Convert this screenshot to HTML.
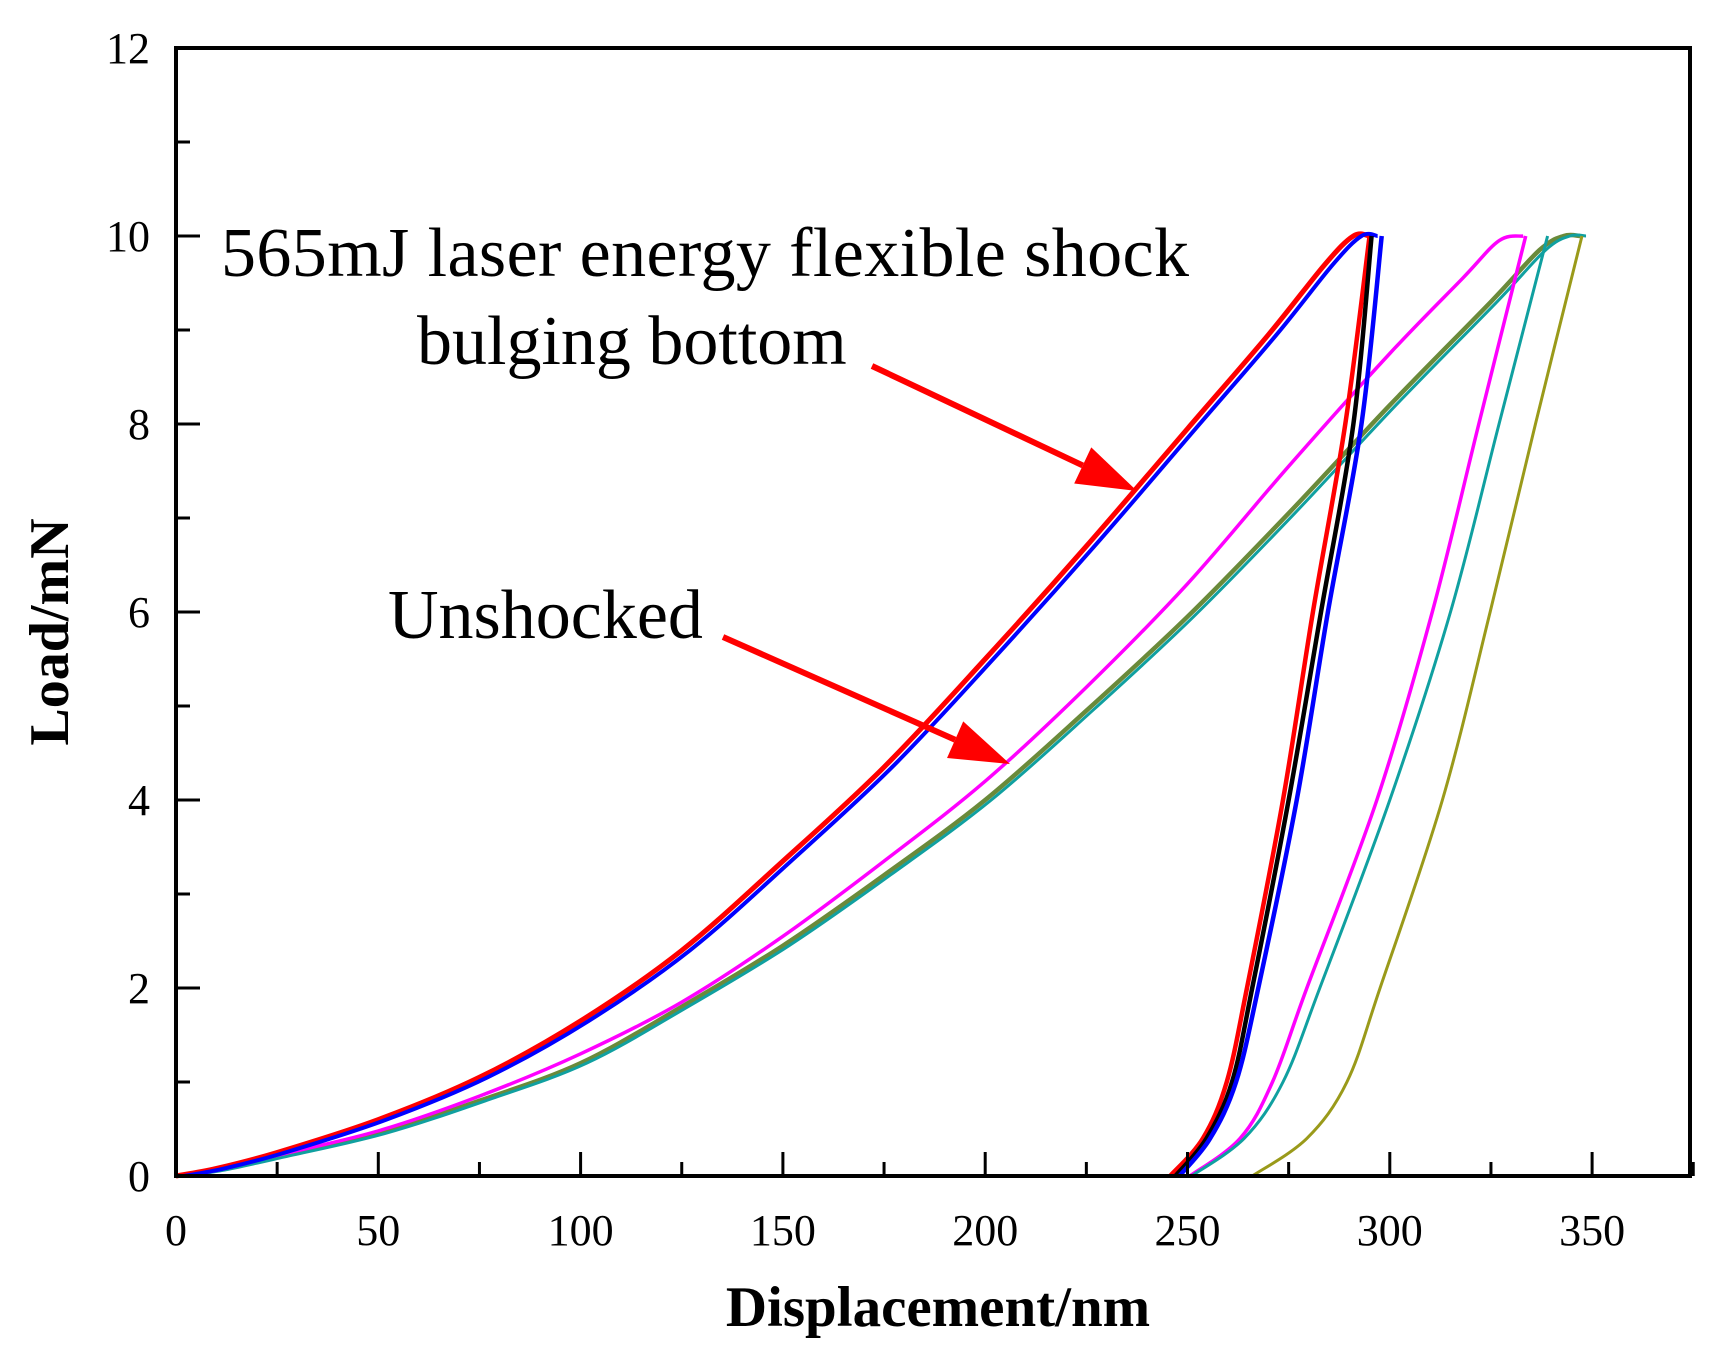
<!DOCTYPE html>
<html><head><meta charset="utf-8"><style>
body{margin:0;background:#fff}
svg{display:block}
text{font-family:"Liberation Serif",serif;fill:#000}
</style></head><body>
<svg id="chart" width="1721" height="1355" viewBox="0 0 1721 1355">
<g id="plot"></g>
<g id="axes"></g>
<text x="221" y="276" font-size="70" textLength="968">565mJ laser energy flexible shock</text>
<text x="417" y="364" font-size="70">bulging bottom</text>
<text x="388" y="638" font-size="70">Unshocked</text>
<text transform="translate(68,632) rotate(-90)" text-anchor="middle" font-size="56" font-weight="bold">Load/mN</text>
<text x="938" y="1326" text-anchor="middle" font-size="57" font-weight="bold">Displacement/nm</text>
</svg>
<script>
const xTicks=[0,50,100,150,200,250,300,350];
const yTicks=[0,2,4,6,8,10,12];
// shocked loading
const shockLoadX=[0,10,25,50,75,100,125,150,175,200,225,250,270,284,291,295];
const shockLoadY=[0,0.08,0.25,0.6,1.05,1.65,2.4,3.35,4.35,5.5,6.7,7.95,8.95,9.7,10,10];
// unshocked loading (teal/olive)
const unLoadX=[0,10,25,50,75,100,125,150,175,200,225,250,275,300,325,337,343,347];
const unLoadY=[0,0.06,0.2,0.45,0.8,1.2,1.8,2.45,3.2,4.0,4.95,5.95,7.05,8.2,9.3,9.85,10,10];
// magenta loading
const magLoadX=[0,10,25,50,75,100,125,150,175,200,225,250,275,300,318,327,333];
const magLoadY=[0,0.06,0.22,0.48,0.85,1.3,1.85,2.55,3.35,4.2,5.2,6.3,7.55,8.75,9.55,9.95,10];
// unloading curves: load levels and displacement for each series
const unloadLoads=[10,8,6,4,2,1,0.4,0];
const redUnload=[295,289,281,273.6,264.7,259.7,253.8,245.7];
const blackUnload=[295.5,291,283,275,266,261,254.7,247];
const blueUnload=[298,293,284.7,277,267.5,262,255.6,248];
const magUnload=[333.6,322,310.5,296.8,279.5,271,263,250.6];
const cyanUnload=[339,327,315,300,282.7,273.6,264,251];
const oliveUnload=[347.5,336,324.8,313,297.6,289.4,279.5,266];

const X0=176,XS=4.046,Y0=1176,YS=94;
const sx=v=>X0+v*XS, sy=v=>Y0-v*YS;
const NS="http://www.w3.org/2000/svg";
const plot=document.getElementById('plot'),axes=document.getElementById('axes');
function smoothPath(pts){
  let d='M'+pts[0][0]+','+pts[0][1];
  for(let i=0;i<pts.length-1;i++){
    const p0=pts[i-1]||pts[i],p1=pts[i],p2=pts[i+1],p3=pts[i+2]||p2;
    const c1=[p1[0]+(p2[0]-p0[0])/6,p1[1]+(p2[1]-p0[1])/6];
    const c2=[p2[0]-(p3[0]-p1[0])/6,p2[1]-(p3[1]-p1[1])/6];
    d+=' C'+c1+' '+c2+' '+p2;
  }
  return d;
}
function line(xs,ys,color,name,w){
  const p=document.createElementNS(NS,'path');
  p.setAttribute('d',smoothPath(xs.map((x,i)=>[sx(x),sy(ys[i])])));
  p.setAttribute('fill','none');p.setAttribute('stroke',color);p.setAttribute('stroke-width',w||3.5);
  p.setAttribute('stroke-linejoin','round');
  
  
  plot.appendChild(p);
}
line(unLoadX,unLoadY,'#6a8a3a','unshocked-load-olive',4.5);
line(unLoadX.map(x=>x+1.5),unLoadY,'#10a0a0','unshocked-load-cyan',3);
line(magLoadX,magLoadY,'#ff00ff','unshocked-load-magenta',3.5);
line(shockLoadX,shockLoadY,'#ff0000','shocked-load-red',5);
line(shockLoadX.map(x=>x+2),shockLoadY,'#0000ff','shocked-load-blue',4);
line(redUnload,unloadLoads,'#ff0000','shocked-unload-red',4.5);
line(blackUnload,unloadLoads,'#000000','shocked-unload-black',4.5);
line(blueUnload,unloadLoads,'#0000ff','shocked-unload-blue',4.5);
line(magUnload,unloadLoads,'#ff00ff','unshocked-unload-magenta',3.5);
line(cyanUnload,unloadLoads,'#10a0a0','unshocked-unload-cyan',3);
line(oliveUnload,unloadLoads,'#9a9a1a','unshocked-unload-olive',3);

function el(tag,attrs,parent){const e=document.createElementNS(NS,tag);for(const k in attrs)e.setAttribute(k,attrs[k]);parent.appendChild(e);return e;}
const frame=el('rect',{x:176,y:48,width:1514,height:1128,fill:'none',stroke:'#000','stroke-width':4},axes);


xTicks.forEach((v,i)=>{
  const t=el('line',{x1:sx(v),x2:sx(v),y1:Y0,y2:Y0-24,stroke:'#000','stroke-width':3},axes);
  
  
  if(v<375){const m=el('line',{x1:sx(v+25),x2:sx(v+25),y1:Y0,y2:Y0-14,stroke:'#000','stroke-width':3},axes);
  
  }
  const l=el('text',{x:sx(v),y:1245,'text-anchor':'middle','font-size':44},axes);l.textContent=v;
  
  
});
yTicks.forEach(v=>{
  const t=el('line',{x1:X0,x2:X0+24,y1:sy(v),y2:sy(v),stroke:'#000','stroke-width':3},axes);
  
  
  if(v<12){const m=el('line',{x1:X0,x2:X0+14,y1:sy(v+1),y2:sy(v+1),stroke:'#000','stroke-width':3},axes);
  
  }
  const l=el('text',{x:150,y:sy(v)+15,'text-anchor':'end','font-size':44},axes);l.textContent=v;
  
  
});
// arrows
function arrow(x1,y1,x2,y2,name){
  const g=el('g',{},axes);
  
  
  const a=Math.atan2(y2-y1,x2-x1),L=60,W=20;
  const bx=x2-L*Math.cos(a),by=y2-L*Math.sin(a);
  el('line',{x1:x1,y1:y1,x2:bx,y2:by,stroke:'#ff0000','stroke-width':6},g);
  el('polygon',{points:`${x2},${y2} ${bx+W*Math.sin(a)},${by-W*Math.cos(a)} ${bx-W*Math.sin(a)},${by+W*Math.cos(a)}`,fill:'#ff0000'},g);
}
arrow(872,366,1137,491,'arrow-shocked');
arrow(723,637,1010,764,'arrow-unshocked');
</script>
</body></html>
